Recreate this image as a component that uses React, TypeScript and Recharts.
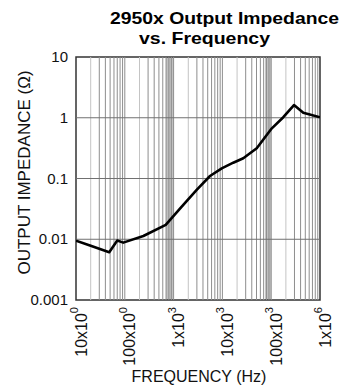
import React from 'react';
import { LineChart, Line, XAxis, YAxis, ReferenceLine, ReferenceArea } from 'recharts';

const freqHz = [10, 20, 48, 70, 93, 240, 690, 1350, 2970, 5570, 9700, 16700, 26800, 50500, 81000, 103000, 177000, 293000, 455000, 1000000];
const impedanceOhm = [0.0095, 0.0078, 0.0061, 0.0095, 0.0088, 0.0113, 0.0172, 0.032, 0.065, 0.11, 0.147, 0.182, 0.215, 0.314, 0.52, 0.67, 1.02, 1.62, 1.21, 1.02];

const xTickValues = [10, 100, 1000, 10000, 100000, 1000000];
const xTickMantissa = ['10x10', '100x10', '1x10', '10x10', '100x10', '1x10'];
const xTickExponent = ['0', '0', '3', '3', '3', '6'];
const yTickValues = [0.001, 0.01, 0.1, 1, 10];
const yTickLabels = ['0.001', '0.01', '0.1', '1', '10'];
const decades = [10, 100, 1000, 10000, 100000];
const multipliers = [2, 3, 4, 5, 6, 7, 8, 9];
const bandStarts = [700, 75000];
const bandEnds = [1000, 100000];
const majorY = [0.01, 0.1, 1];
const titleLines = ['2950x Output Impedance', 'vs. Frequency'];
const xTitle = 'FREQUENCY (Hz)';
const yTitle = 'OUTPUT IMPEDANCE (\u03A9)';

const data = freqHz.map((f, i) => ({ f, z: impedanceOhm[i] }));
const minorX: { v: number; light: boolean }[] = [];
decades.forEach((d) => {
  multipliers.forEach((m) => minorX.push({ v: d * m, light: m === 2 }));
  if (d > 10) minorX.push({ v: d, light: false });
});

const FONT = 'Liberation Sans, Arial, Helvetica, sans-serif';

const XTick = (props: any) => {
  const { x, y, payload } = props;
  const i = xTickValues.indexOf(payload.value);
  const ax = x + 5;
  const ay = y - 1;
  return (
    <text
      x={ax}
      y={ay}
      transform={`rotate(-90, ${ax}, ${ay})`}
      textAnchor="end"
      dominantBaseline="central"
      fontFamily={FONT}
      fontSize={16}
      fill="#111"
    >
      {xTickMantissa[i]}
      <tspan fontSize={11} dy={-7}>{xTickExponent[i]}</tspan>
    </text>
  );
};

const YTick = (props: any) => {
  const { x, y, payload } = props;
  const i = yTickValues.indexOf(payload.value);
  return (
    <text x={x} y={y} dy={5} textAnchor="end" fontFamily={FONT} fontSize={15} fill="#111">
      {yTickLabels[i]}
    </text>
  );
};

export default function App() {
  return (
    <div style={{ position: 'absolute', left: 0, top: 0, width: 343, height: 387, background: '#fff' }}>
      <LineChart width={343} height={387} data={data} margin={{ top: 57, right: 23, bottom: 0, left: 0 }}>
        <XAxis
          dataKey="f"
          type="number"
          scale="log"
          domain={[10, 1000000]}
          ticks={xTickValues}
          interval={0}
          tick={<XTick />}
          axisLine={false}
          tickLine={false}
          height={87}
          allowDataOverflow
        />
        <YAxis
          dataKey="z"
          type="number"
          scale="log"
          domain={[0.001, 10]}
          ticks={yTickValues}
          interval={0}
          tick={<YTick />}
          axisLine={false}
          tickLine={false}
          width={76}
          allowDataOverflow
        />
        {bandStarts.map((b, i) => (
          <ReferenceArea key={'band' + i} x1={b} x2={bandEnds[i]} y1={0.001} y2={10} fill="#c0c0c0" fillOpacity={1} stroke="none" />
        ))}
        {minorX.map((g) => (
          <ReferenceLine key={'gx' + g.v} x={g.v} stroke={g.light ? '#c4c4c4' : '#8e8e8e'} strokeWidth={1} />
        ))}
        {majorY.map((v) => (
          <ReferenceLine key={'gy' + v} y={v} stroke="#707070" strokeWidth={1} />
        ))}
        <ReferenceArea x1={10} x2={1000000} y1={0.001} y2={10} fill="none" stroke="#333" strokeWidth={1.5} />
        <Line
          dataKey="z"
          type="linear"
          stroke="#000"
          strokeWidth={2.6}
          dot={false}
          isAnimationActive={false}
          strokeLinejoin="round"
        />
      </LineChart>
      <svg width={343} height={387} style={{ position: 'absolute', left: 0, top: 0, pointerEvents: 'none' }}>
        <text x={110} y={24} fontFamily={FONT} fontWeight="bold" fontSize={17} fill="#000" textLength={229} lengthAdjust="spacingAndGlyphs">
          {titleLines[0]}
        </text>
        <text x={139} y={44} fontFamily={FONT} fontWeight="bold" fontSize={17} fill="#000" textLength={131} lengthAdjust="spacingAndGlyphs">
          {titleLines[1]}
        </text>
        <text x={199} y={382} textAnchor="middle" fontFamily={FONT} fontSize={16} fill="#111">
          {xTitle}
        </text>
        <text x={30} y={172.5} transform="rotate(-90, 30, 172.5)" textAnchor="middle" fontFamily={FONT} fontSize={17} fill="#111">
          {yTitle}
        </text>
      </svg>
    </div>
  );
}
